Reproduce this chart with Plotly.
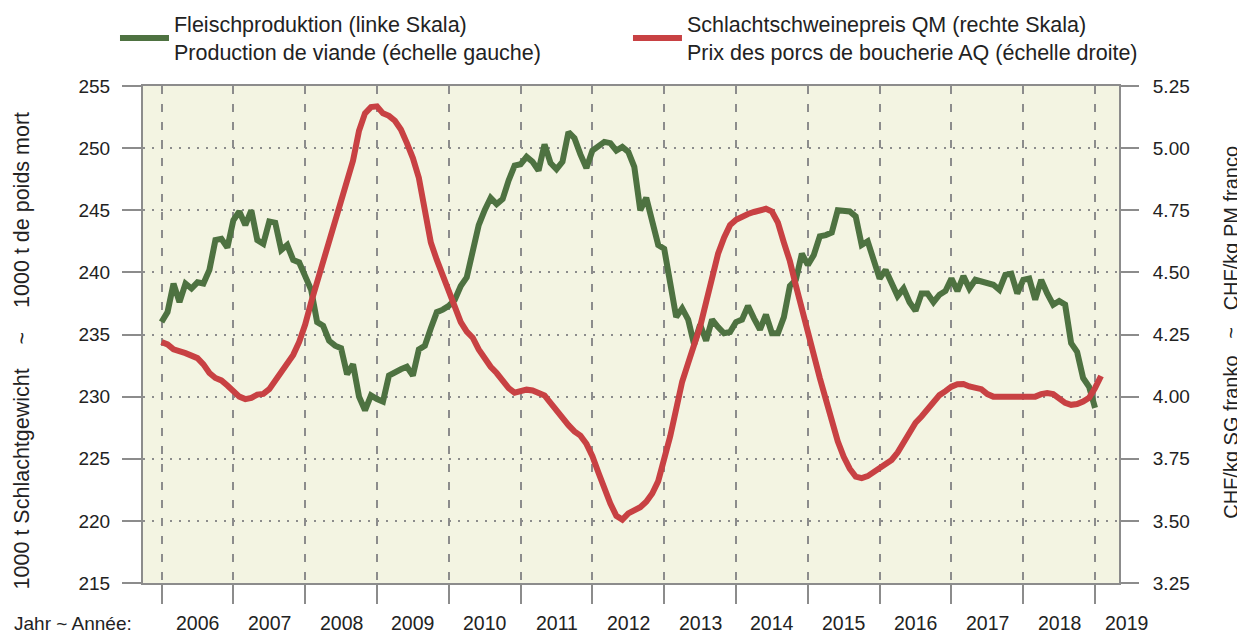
import plotly.graph_objects as go

# Fleischproduktion, 1000 t Schlachtgewicht (monthly, Jan 2006 ...)
production = [
    236.0, 236.8, 239.1, 237.6, 239.1, 238.7, 239.2, 239.1, 240.2, 242.6, 242.7, 242.0,
    244.2, 244.9, 243.8, 245.0, 242.6, 242.3, 244.1, 244.0, 241.8, 242.2, 241.0, 240.8,
    239.7, 238.6, 236.0, 235.7, 234.5, 234.1, 233.9, 231.8, 232.6, 230.0, 228.9, 230.1,
    229.8, 229.6, 231.7, 232.0, 232.2, 232.4, 231.7, 233.8, 234.1, 235.5, 236.8, 237.0,
    237.3, 237.8, 238.9, 239.6, 241.5, 243.8, 245.0, 246.0, 245.5, 245.9, 247.4, 248.6,
    248.7, 249.3, 248.9, 248.2, 250.3, 248.8, 248.3, 248.9, 251.3, 250.8, 249.5, 248.4,
    249.8, 250.2, 250.5, 250.4, 249.8, 250.1, 249.7, 248.5, 245.0, 246.0, 244.2, 242.2,
    241.9, 239.0, 236.4, 237.1, 236.2, 234.2, 235.8, 234.5, 236.2, 235.6, 235.1, 235.2,
    236.0, 236.2, 237.3, 236.3, 235.4, 236.6, 235.1, 235.1, 236.4, 238.9, 239.4, 241.5,
    240.6, 241.4, 242.9, 243.0, 243.2, 245.0, 244.9, 244.9, 244.5, 242.2, 242.5, 240.9,
    239.5, 240.2, 239.1, 238.1, 238.7, 237.6, 236.9, 238.3, 238.3, 237.6, 238.2, 238.5,
    239.5, 238.5, 239.7, 238.7, 239.4, 239.3, 239.2, 239.0, 238.6, 239.8, 239.9, 238.3,
    239.4, 239.5, 237.8, 239.4, 238.3, 237.4, 237.7, 237.4, 234.3, 233.6, 231.5, 230.8,
    229.1,
]

# Schlachtschweinepreis QM, CHF/kg SG franko (monthly, Jan 2006 ...)
price = [
    4.22, 4.21, 4.19, 4.185, 4.175, 4.165, 4.155, 4.13, 4.095, 4.075, 4.065, 4.045,
    4.02, 4.00, 3.99, 3.995, 4.008, 4.011, 4.03, 4.065, 4.10, 4.125, 4.168, 4.22,
    4.29, 4.38, 4.46, 4.54, 4.63, 4.71, 4.79, 4.87, 4.95, 5.07, 5.14, 5.165,
    5.168, 5.14, 5.13, 5.11, 5.075, 5.02, 4.96, 4.88, 4.76, 4.62, 4.55, 4.49,
    4.425, 4.37, 4.30, 4.262, 4.237, 4.19, 4.15, 4.12, 4.095, 4.06, 4.034, 4.016,
    4.02, 4.028, 4.025, 4.017, 4.005, 3.975, 3.945, 3.91, 3.885, 3.86, 3.843, 3.81,
    3.76, 3.695, 3.63, 3.57, 3.52, 3.505, 3.53, 3.54, 3.555, 3.577, 3.61, 3.66,
    3.74, 3.84, 3.95, 4.06, 4.135, 4.20, 4.282, 4.38, 4.48, 4.575, 4.64, 4.69,
    4.712, 4.725, 4.735, 4.743, 4.748, 4.756, 4.745, 4.70, 4.62, 4.545, 4.447, 4.349,
    4.25, 4.16, 4.075, 3.99, 3.905, 3.82, 3.758, 3.71, 3.678, 3.672, 3.68, 3.698,
    3.715, 3.73, 3.745, 3.775, 3.815, 3.862, 3.895, 3.92, 3.947, 3.98, 4.006, 4.022,
    4.04, 4.05, 4.051, 4.041, 4.036, 4.03, 4.01, 4.00, 4.00, 4.00, 4.00, 4.00,
    4.00, 4.00, 4.00, 4.01, 4.014, 4.01, 3.99, 3.975, 3.967, 3.97, 3.98, 3.995,
    4.035, 4.083,
]

years = ["2006", "2007", "2008", "2009", "2010", "2011", "2012",
         "2013", "2014", "2015", "2016", "2017", "2018", "2019"]

left_ticks = [215, 220, 225, 230, 235, 240, 245, 250, 255]
right_ticks = [3.25, 3.50, 3.75, 4.00, 4.25, 4.50, 4.75, 5.00, 5.25]

GREEN = "#4E7241"
RED = "#C84143"
GRAY = "#8C8C8C"
BG = "#F3F4E2"
TXT = "#222222"
FONT = "Liberation Sans, Arial, sans-serif"

X_RANGE = [-3.1, 160.0]

prod_x = list(range(len(production)))
price_x = list(range(len(price)))
year_start = [12 * i for i in range(len(years))]
label_pos = [12 * i + 6 for i in range(len(years))]
label_pos[-1] = 12 * (len(years) - 1) + 5.3

fig = go.Figure()
fig.add_trace(go.Scatter(
    x=prod_x, y=production, mode="lines",
    line=dict(color=GREEN, width=6),
    name="Fleischproduktion (linke Skala)<br>Production de viande (échelle gauche)",
    legend="legend", yaxis="y",
))
fig.add_trace(go.Scatter(
    x=price_x, y=price, mode="lines",
    line=dict(color=RED, width=6),
    name="Schlachtschweinepreis QM (rechte Skala)<br>Prix des porcs de boucherie AQ (échelle droite)",
    legend="legend2", yaxis="y2",
))

LABEL_Y = -0.081
annotations = []
for pos, lab in zip(label_pos, years):
    if X_RANGE[0] <= pos <= X_RANGE[1]:
        ref, xpos = "x", pos
    else:
        ref, xpos = "paper", (pos - X_RANGE[0]) / (X_RANGE[1] - X_RANGE[0])
    annotations.append(dict(x=xpos, y=LABEL_Y, xref=ref, yref="paper", text=lab,
                            showarrow=False, xanchor="center", yanchor="middle",
                            font=dict(size=19.5, color=TXT, family=FONT)))
annotations.append(dict(x=-0.1345, y=LABEL_Y, xref="paper", yref="paper",
                        text="Jahr ~ Année:", showarrow=False, xanchor="left",
                        yanchor="middle", font=dict(size=19, color=TXT, family=FONT)))
annotations.append(dict(x=-0.124, y=0.468, xref="paper", yref="paper",
                        text="1000 t Schlachtgewicht    ~    1000 t de poids mort",
                        textangle=-90, showarrow=False, xanchor="center", yanchor="middle",
                        font=dict(size=21.5, color=TXT, family=FONT)))
annotations.append(dict(x=1.1145, y=0.505, xref="paper", yref="paper",
                        text="CHF/kg SG franko   ~   CHF/kg PM franco",
                        textangle=-90, showarrow=False, xanchor="center", yanchor="middle",
                        font=dict(size=20, color=TXT, family=FONT)))

fig.update_layout(
    width=1245, height=635,
    margin=dict(l=135, r=134, t=78, b=60, autoexpand=False),
    paper_bgcolor="white",
    plot_bgcolor=BG,
    font=dict(family=FONT, size=20, color=TXT),
    showlegend=True,
    legend=dict(x=-0.0287, y=1.0966, xanchor="left", yanchor="middle",
                orientation="h", bgcolor="rgba(0,0,0,0)", itemwidth=49,
                font=dict(size=21.5, color=TXT, family=FONT)),
    legend2=dict(x=0.4969, y=1.0966, xanchor="left", yanchor="middle",
                 orientation="h", bgcolor="rgba(0,0,0,0)", itemwidth=49,
                 font=dict(size=21.5, color=TXT, family=FONT)),
    xaxis=dict(
        range=X_RANGE, tickvals=year_start, showticklabels=False,
        ticks="outside", ticklen=19, tickwidth=2, tickcolor=GRAY,
        showgrid=True, gridcolor=GRAY, gridwidth=2, griddash="8px,10px",
        showline=True, linecolor=GRAY, linewidth=2, mirror=True,
        zeroline=False,
    ),
    yaxis=dict(
        range=[215, 255], tickvals=left_ticks, ticktext=[str(v) for v in left_ticks],
        ticks="outside", ticklen=19, tickwidth=2, tickcolor=GRAY,
        showgrid=True, gridcolor=GRAY, gridwidth=1.5, griddash="2px,7px",
        showline=True, linecolor=GRAY, linewidth=2, ticklabelstandoff=8,
        zeroline=False, tickfont=dict(size=19, color=TXT, family=FONT),
    ),
    yaxis2=dict(
        range=[3.25, 5.25], tickvals=right_ticks, ticktext=[f"{v:.2f}" for v in right_ticks],
        overlaying="y", side="right",
        ticks="outside", ticklen=18, tickwidth=2, tickcolor=GRAY,
        showgrid=False, showline=True, linecolor=GRAY, linewidth=2, ticklabelstandoff=10,
        zeroline=False, tickfont=dict(size=19, color=TXT, family=FONT),
    ),
    annotations=annotations,
)

fig.write_html("out.html")
